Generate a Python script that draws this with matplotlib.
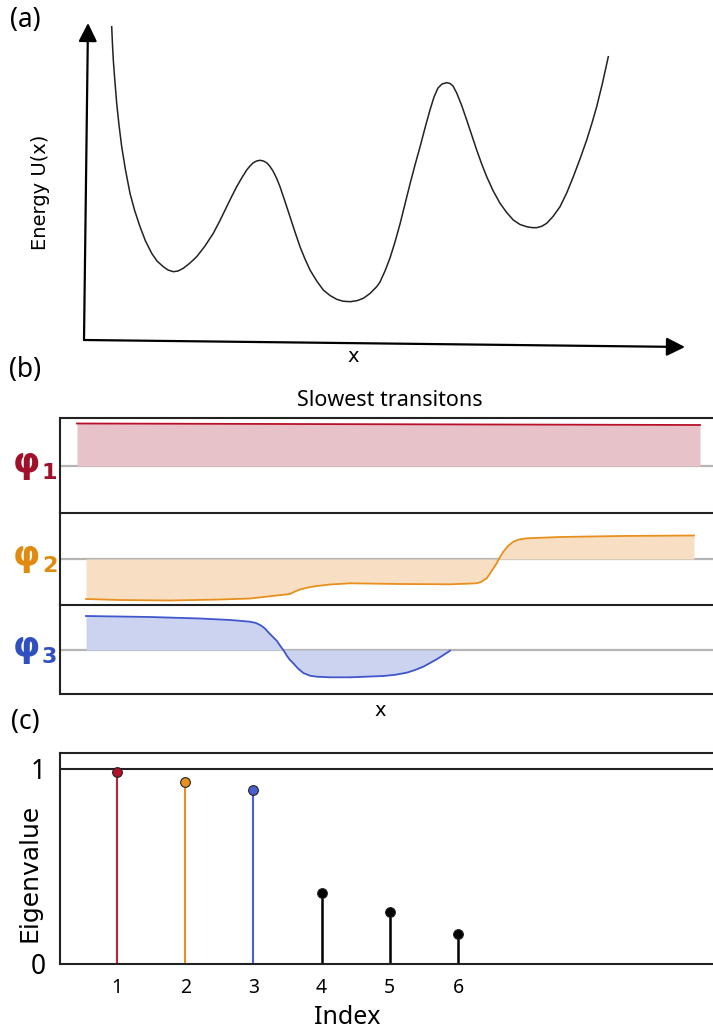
import matplotlib
matplotlib.use("Agg")
import matplotlib.pyplot as plt
import numpy as np

W, H = 713, 1034

# energy landscape U(x), arbitrary units
pos = [27.7, 28.5, 29.3, 30.8, 32.7, 35, 37.7, 41.5, 46, 50.5,
       56, 61.5, 67.7, 73, 79.3, 84, 89.3, 94, 99.3, 106,
       112.7, 121, 129.3, 136, 142.7, 147.7, 152.7, 157.7, 162.7, 166,
       169, 172.5, 176, 179.5, 183, 186, 189, 192.5, 196, 201,
       206, 211, 216, 221, 226, 232.7, 239.3, 246, 252.7, 259,
       266, 273, 279.3, 286, 292.7, 296, 301, 306, 311, 316,
       321, 326, 331, 336, 341, 346, 350, 354, 358, 362.7,
       366, 369, 372.7, 377.5, 382.7, 387.7, 392.7, 397.7, 402.7, 409,
       416, 422.7, 429.3, 436, 442.7, 447.7, 452.7, 457.7, 462.7, 469,
       476, 482.7, 489.3, 496, 502.7, 507.7, 512.7, 518.5, 524.3]
energy = [313.3, 295, 280, 260, 236.7, 215, 193.3, 170, 146.7, 130,
          113.3, 99, 86.7, 79, 73.3, 70, 68.3, 69, 71.7, 77,
          83.3, 94, 106.7, 119.5, 133.3, 143.5, 153.3, 162, 170, 174,
          177, 179, 179.7, 179, 177, 173.5, 169, 162, 153.3, 138.5,
          123.3, 108, 93.3, 81, 70, 59, 50, 44.5, 40.7, 38.8,
          38.3, 39.3, 41.7, 46.5, 53.3, 58, 69, 82, 98, 116,
          136, 156, 175, 193, 212, 230, 243, 252, 256, 257.3,
          256.5, 254, 247, 235, 220, 205, 190, 176, 163.3, 149.5,
          136.7, 127.5, 120, 115.5, 113.3, 112.4, 112.3, 113.7, 116.7, 123.5,
          133.3, 147, 163.3, 181, 200, 216, 233.3, 257, 283.3]

# slowest eigenfunctions
phi1_x = [17, 640]
phi1 = [42.5, 41.0]

phi2_x = [26, 60, 110, 160, 190, 230, 235, 240, 248, 256.7, 270, 290, 340, 390,
          416.7, 421, 426.7, 431, 436.7, 440, 443.3, 448, 453.3, 459, 466.7,
          500, 560, 634]
phi2 = [-40, -41, -41.5, -40.5, -39.5, -35, -32.5, -30.5, -28.5, -27, -25.5,
        -24.3, -25, -25.3, -24.3, -23, -19.3, -13, -4.3, 2, 7.3, 13, 17.3,
        19.5, 20.7, 22, 23, 23.5]

phi3_x = [26, 90, 140, 170, 180, 190, 196, 201, 205, 209, 213, 217, 220, 223.3,
          227, 230, 233.3, 238, 243.3, 250, 256.7, 270, 290, 323.3, 335, 346.7,
          355, 363.3, 370, 376.7, 383, 390]
phi3 = [34, 33, 31.5, 30, 29.2, 28.3, 27, 24.5, 21.5, 17, 13, 9, 4.5, 0, -6,
        -10, -13.3, -18.5, -23, -25.7, -26.7, -27.3, -27.3, -26, -24.8, -22.7,
        -20, -16.7, -13, -9.3, -5.3, -0.7]

# eigenvalues
index = [1, 2, 3, 4, 5, 6]
eigvals = [0.985, 0.933, 0.892, 0.364, 0.267, 0.154]
stem_colors = ["#c0203a", "#e8901e", "#4a60d0", "black", "black", "black"]
dot_colors = ["#b0102a", "#e8901e", "#4a60d0", "black", "black", "black"]

phi_line = ["#b8102a", "#e8901e", "#3f56cc"]
phi_fill = ["#e8c2c9", "#f8dfc4", "#ccd3f0"]
phi_label = ["#a0102a", "#e08a10", "#3050c0"]


def box(x0, y0, x1, y1):
    # pixel box -> figure fraction rect
    return [x0 / W, 1 - y1 / H, (x1 - x0) / W, (y1 - y0) / H]


fig = plt.figure(figsize=(W / 100, H / 100), dpi=100)

# (a) energy landscape
ax = fig.add_axes(box(84, 25, 685, 340))
ax.plot(pos, energy, color="#222222", lw=1.1)
ax.set_xlim(0, 601)
ax.set_ylim(0, 315)
ax.axis("off")
ax.annotate("", xy=(601, -7), xytext=(0, 0),
            arrowprops=dict(arrowstyle="-|>", lw=1.6, color="black", mutation_scale=28,
                            shrinkA=0, shrinkB=0), annotation_clip=False)
ax.annotate("", xy=(4, 317), xytext=(0, 0),
            arrowprops=dict(arrowstyle="-|>", lw=1.6, color="black", mutation_scale=28,
                            shrinkA=0, shrinkB=0), annotation_clip=False)
fig.text(40 / W, 1 - 192 / H, "Energy U(x)", rotation=90, ha="center", va="center",
         fontsize=14, family="DejaVu Sans")
fig.text(353 / W, 1 - 356 / H, "x", ha="center", va="center", fontsize=14,
         family="DejaVu Sans")

# (b) eigenfunctions
rows = [(418, 513, 466), (513, 605, 559), (605, 694, 650)]
xs = [phi1_x, phi2_x, phi3_x]
ys = [phi1, phi2, phi3]
for i, (top, bot, base) in enumerate(rows):
    axb = fig.add_axes(box(60, top, 720, bot))
    axb.set_xlim(0, 660)
    axb.set_ylim(-(bot - base), base - top)
    axb.axhline(0, color="#b5b5b5", lw=1.6, zorder=1)
    axb.fill_between(xs[i], ys[i], 0, color=phi_fill[i], lw=0, zorder=2)
    axb.plot(xs[i], ys[i], color=phi_line[i], lw=1.3, zorder=3)
    axb.set_xticks([])
    axb.set_yticks([])
    axb.spines["right"].set_visible(False)
    axb.spines["bottom"].set_visible(i == 2)
    for s in ["top", "left", "bottom"]:
        axb.spines[s].set_linewidth(1.5)
        axb.spines[s].set_color("#222222")
    fig.text(40 / W, 1 - (base - 3) / H, "φ", color=phi_label[i], ha="right",
             va="center", fontsize=25, fontweight="bold", family="DejaVu Sans")
    fig.text(42 / W, 1 - (base + 7) / H, str(i + 1), color=phi_label[i], ha="left",
             va="center", fontsize=16, fontweight="bold", family="DejaVu Sans")

fig.text(390 / W, 1 - 401 / H, "Slowest transitons", ha="center", va="center",
         fontsize=15.5, family="Noto Sans")
fig.text(380 / W, 1 - 711 / H, "x", ha="center", va="center", fontsize=14,
         family="DejaVu Sans")

# (c) eigenvalue spectrum
axc = fig.add_axes(box(60, 753, 720, 964))
px = 68.2
axc.set_xlim(1 - 57 / px, 6 + 262 / px)
axc.set_ylim(0, 1.082)
axc.axhline(1, color="#222222", lw=1.5)
for k, v, sc, dc in zip(index, eigvals, stem_colors, dot_colors):
    axc.plot([k, k], [0, v], color=sc, lw=1.8 if sc == "black" else 1.5, zorder=2)
    axc.plot(k, v, "o", ms=7, mfc=dc, mec="#222222", mew=0.8, zorder=3)
axc.set_xticks(index)
axc.set_xticklabels([str(k) for k in index], fontsize=14, family="Noto Sans")
axc.set_yticks([0, 1])
axc.set_yticklabels(["0", "1"], fontsize=19, family="Noto Sans")
axc.tick_params(length=0, pad=10)
axc.spines["right"].set_visible(False)
for s in ["top", "left", "bottom"]:
    axc.spines[s].set_linewidth(1.5)
    axc.spines[s].set_color("#222222")
fig.text(30 / W, 1 - 873 / H, "Eigenvalue", rotation=90, ha="center", va="center",
         fontsize=18, family="DejaVu Sans")
fig.text(347 / W, 1 - 1017 / H, "Index", ha="center", va="center", fontsize=18,
         family="Noto Sans")

# panel letters
for lab, y in [("(a)", 20), ("(b)", 370), ("(c)", 722)]:
    fig.text(25 / W, 1 - y / H, lab, ha="center", va="center", fontsize=19,
             family="Noto Sans")

fig.savefig("out.png", dpi=100)
